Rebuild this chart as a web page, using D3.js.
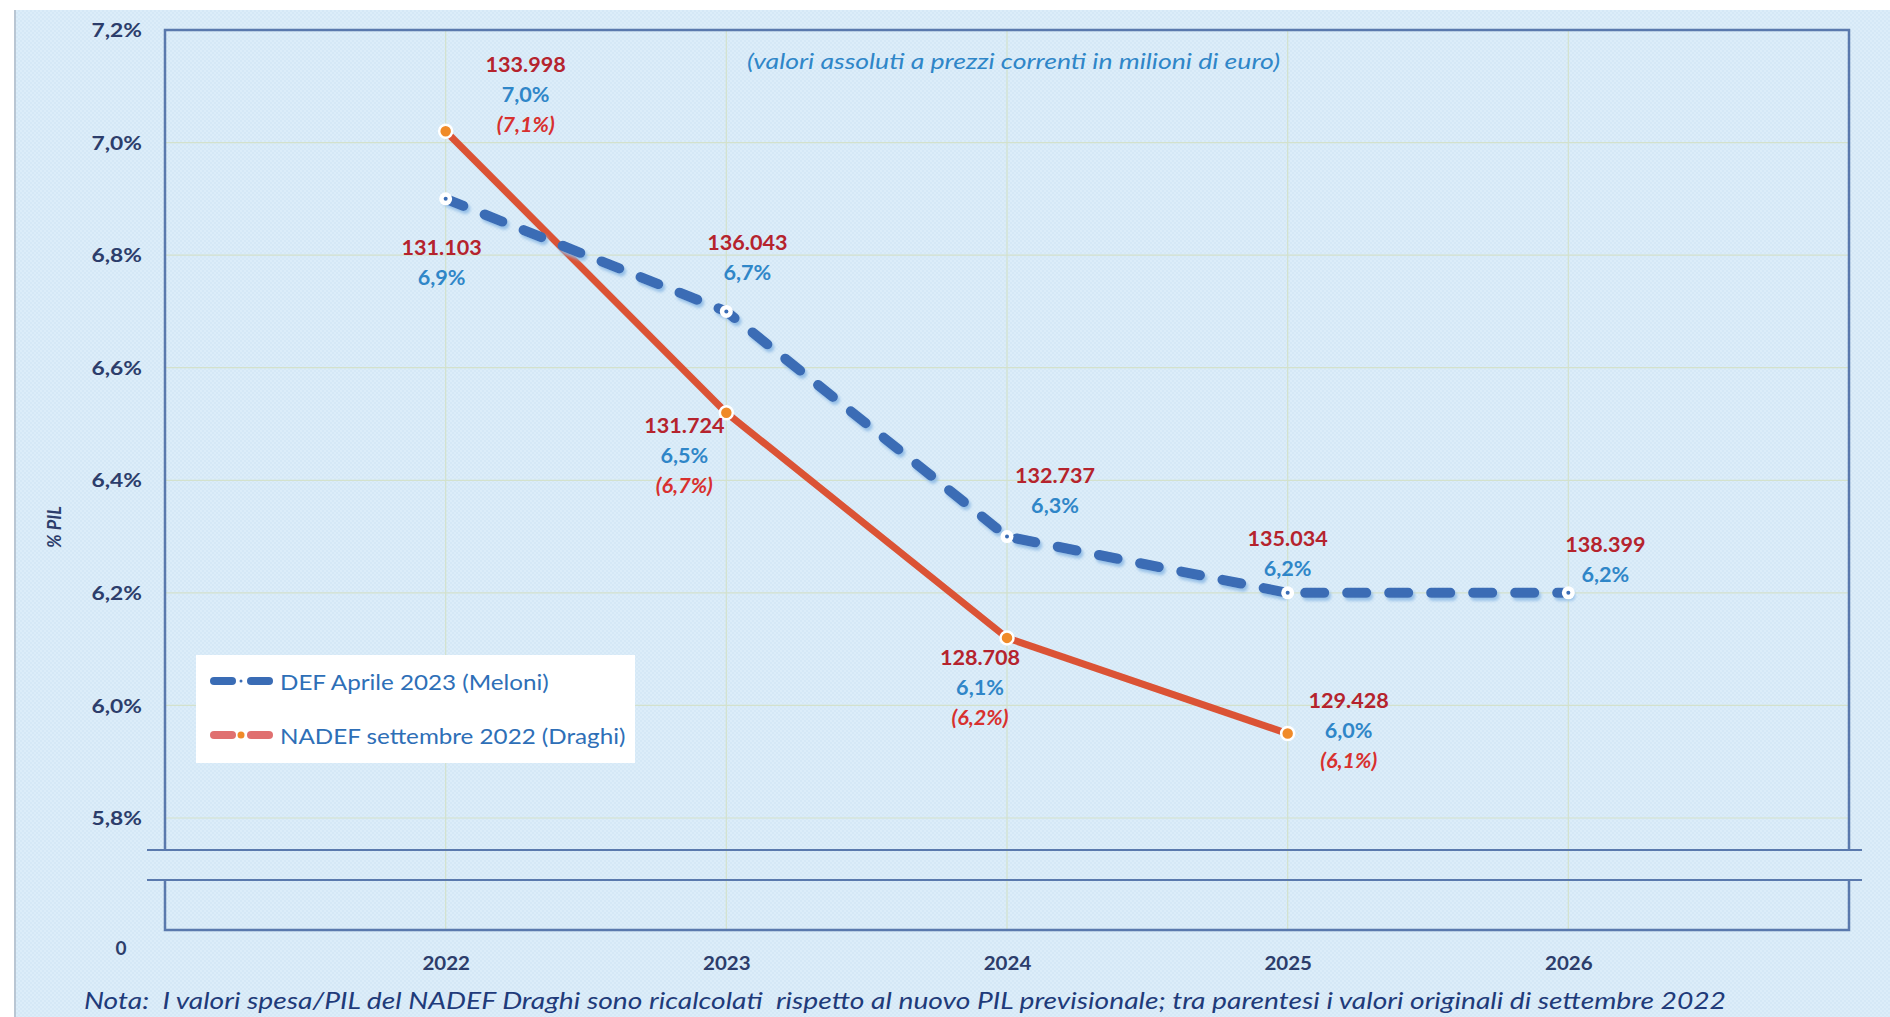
<!DOCTYPE html>
<html>
<head>
<meta charset="utf-8">
<script src="https://cdn.jsdelivr.net/npm/d3@7"></script>
<style>
  html, body { margin: 0; padding: 0; background: #ffffff; }
  svg { display: block; }
  text { font-family: Lato, "Open Sans", sans-serif; }
</style>
</head>
<body>
<svg id="chart" width="1890" height="1017"></svg>
<script>
// ---------------- DATA ----------------
const years = [2022, 2023, 2024, 2025, 2026];
const defPct = [6.9, 6.7, 6.3, 6.2, 6.2];
const defPctLabel = ["6,9%", "6,7%", "6,3%", "6,2%", "6,2%"];
const defAbs = ["131.103", "136.043", "132.737", "135.034", "138.399"];

const nadefYears = [2022, 2023, 2024, 2025];
const nadefPct = [7.02, 6.52, 6.12, 5.95];
const nadefPctLabel = ["7,0%", "6,5%", "6,1%", "6,0%"];
const nadefOrigLabel = ["(7,1%)", "(6,7%)", "(6,2%)", "(6,1%)"];
const nadefAbs = ["133.998", "131.724", "128.708", "129.428"];

const yTicks = [5.8, 6.0, 6.2, 6.4, 6.6, 6.8, 7.0, 7.2];
const yBaseTick = [0];
const seriesNames = ["DEF Aprile 2023 (Meloni)", "NADEF settembre 2022 (Draghi)"];
const yTitle = "% PIL";
const subtitle = "(valori assoluti a prezzi correnti in milioni di euro)";
const note = "Nota:  I valori spesa/PIL del NADEF Draghi sono ricalcolati  rispetto al nuovo PIL previsionale; tra parentesi i valori originali di settembre 2022";

// ---------------- LAYOUT ----------------
const defLabelOffset = [[-4, 48], [21, -70], [48, -62], [0, -55], [37, -49]];
const nadefLabelOffset = [[80, -67], [-42, 12], [-27, 19], [61, -34]];

const C = {
  bg: "#dcedf9",
  frame: "#5a79ad",
  grid: "#d3e1cc",
  blue: "#3a6cb5",
  red: "#db5335",
  orange: "#f08a28",
  redText: "#b5232d",
  blueText: "#2f86c8",
  redItalic: "#d8302e",
  navy: "#2c3d6b",
  legendText: "#2e6fb7",
  noteText: "#1f3b7a"
};

const svg = d3.select("#chart");
const W = 1890, H = 1017;
const plot = { left: 165, right: 1849, top: 30, bottom: 818 };
const breakTop = 850, breakBot = 880, axisBottom = 930;

// defs
const defs = svg.append("defs");
const pat = defs.append("pattern").attr("id", "tex").attr("width", 4).attr("height", 4)
  .attr("patternUnits", "userSpaceOnUse");
pat.append("rect").attr("width", 4).attr("height", 4).attr("fill", C.bg);
pat.append("rect").attr("width", 2).attr("height", 2).attr("fill", "#d5e8f6");
pat.append("rect").attr("x", 2).attr("y", 2).attr("width", 2).attr("height", 2).attr("fill", "#d5e8f6");

const shadow = defs.append("filter").attr("id", "blueShadow")
  .attr("x", "-5%").attr("y", "-20%").attr("width", "110%").attr("height", "140%");
shadow.append("feGaussianBlur").attr("in", "SourceGraphic").attr("stdDeviation", 0.6).attr("result", "soft");
shadow.append("feDropShadow").attr("in", "soft").attr("dx", 2).attr("dy", 3).attr("stdDeviation", 1.6)
  .attr("flood-color", "#8fbbe6").attr("flood-opacity", 0.9);

// background
svg.append("rect").attr("width", W).attr("height", H).attr("fill", "#ffffff");
svg.append("rect").attr("x", 15).attr("y", 10).attr("width", W - 15).attr("height", H - 10).attr("fill", "url(#tex)");
svg.append("line").attr("x1", 15).attr("x2", 15).attr("y1", 10).attr("y2", H)
  .attr("stroke", "#b9c6d3").attr("stroke-width", 2);

// scales
const x = d3.scaleLinear().domain([2021, 2027]).range([plot.left, plot.right]);
const y = d3.scaleLinear().domain([5.8, 7.2]).range([plot.bottom, plot.top]);
const yBase = d3.scaleLinear().domain([0, 1]).range([948, 900]);

// grid
const g = svg.append("g");
g.selectAll(".hgrid").data(yTicks.slice(0, -1)).join("line")
  .attr("x1", plot.left).attr("x2", plot.right)
  .attr("y1", d => y(d)).attr("y2", d => y(d))
  .attr("stroke", C.grid).attr("stroke-width", 1.2);
g.selectAll(".vgrid").data(years).join("line")
  .attr("x1", d => x(d)).attr("x2", d => x(d))
  .attr("y1", plot.top).attr("y2", axisBottom)
  .attr("stroke", C.grid).attr("stroke-width", 1.2);

// frame
const fr = svg.append("g").attr("stroke", C.frame).attr("fill", "none");
fr.append("path").attr("stroke-width", 2.5)
  .attr("d", `M${plot.left},${breakTop}V${plot.top}H${plot.right}V${breakTop}`);
fr.append("path").attr("stroke-width", 2.5)
  .attr("d", `M${plot.left},${breakBot}V${axisBottom}H${plot.right}V${breakBot}`);
fr.append("line").attr("x1", 147).attr("x2", 1862).attr("y1", breakTop).attr("y2", breakTop).attr("stroke-width", 2.2);
fr.append("line").attr("x1", 147).attr("x2", 1862).attr("y1", breakBot).attr("y2", breakBot).attr("stroke-width", 2.2);

// y axis
const yAxis = d3.axisLeft(y).tickValues(yTicks).tickSize(0).tickPadding(0)
  .tickFormat(d => d3.format(".1f")(d).replace(".", ",") + "%");
const ya = svg.append("g").attr("transform", `translate(142,0)`).call(yAxis);
ya.select(".domain").remove();
ya.selectAll("text").attr("font-size", 19).attr("font-weight", 700).attr("fill", C.navy)
  .attr("dy", "0.35em").attr("x", 0)
  .attr("transform", "scale(1.2,1)");
const yb = svg.append("g").attr("transform", `translate(121,0)`)
  .call(d3.axisLeft(yBase).tickValues(yBaseTick).tickSize(0).tickPadding(0).tickFormat(d => String(d)));
yb.select(".domain").remove();
yb.selectAll("text").attr("font-size", 19).attr("font-weight", 700).attr("fill", C.navy)
  .attr("text-anchor", "middle").attr("dy", "0.35em").attr("x", 0);

svg.append("text").attr("transform", "translate(54,527) rotate(-90)")
  .attr("text-anchor", "middle").attr("dominant-baseline", "central")
  .attr("font-size", 18).attr("font-weight", 700).attr("font-style", "italic")
  .attr("fill", C.navy).text(yTitle);

// x axis
const xAxis = d3.axisBottom(x).tickValues(years).tickSize(0).tickPadding(0).tickFormat(d3.format("d"));
const xa = svg.append("g").attr("transform", `translate(0,963)`).call(xAxis);
xa.select(".domain").remove();
xa.selectAll("text").attr("font-size", 19).attr("font-weight", 700).attr("fill", C.navy)
  .attr("dy", "0.35em").attr("y", 0).attr("transform", "scale(1.08,1)");

// subtitle
svg.append("text").attr("x", 747).attr("y", 60)
  .attr("dominant-baseline", "central").attr("font-size", 21).attr("font-style", "italic")
  .attr("textLength", 533).attr("lengthAdjust", "spacingAndGlyphs")
  .attr("fill", C.blueText).text(subtitle);

// lines
const defData = years.map((yr, i) => ({ yr, v: defPct[i], i }));
const nadefData = nadefYears.map((yr, i) => ({ yr, v: nadefPct[i], i }));
const line = d3.line().x(d => x(d.yr)).y(d => y(d.v));

svg.append("path").datum(nadefData).attr("d", line)
  .attr("fill", "none").attr("stroke", C.red).attr("stroke-width", 7)
  .attr("stroke-linejoin", "round");

svg.append("path").datum(defData).attr("d", line)
  .attr("fill", "none").attr("stroke", C.blue).attr("stroke-width", 10)
  .attr("stroke-linecap", "round").attr("stroke-dasharray", "19,23")
  .attr("stroke-linejoin", "round").attr("filter", "url(#blueShadow)");

// markers
svg.selectAll(".mDef").data(defData).join("g")
  .attr("transform", d => `translate(${x(d.yr)},${y(d.v)})`)
  .each(function () {
    const s = d3.select(this);
    s.append("circle").attr("r", 6.5).attr("fill", "#ffffff");
    s.append("circle").attr("r", 2).attr("fill", C.blue);
  });
svg.selectAll(".mNad").data(nadefData).join("circle")
  .attr("cx", d => x(d.yr)).attr("cy", d => y(d.v)).attr("r", 6.5)
  .attr("fill", C.orange).attr("stroke", "#ffffff").attr("stroke-width", 2.5);

// data labels
const lh = 30;
function labels(data, offsets, lines) {
  data.forEach((d, i) => {
    const cx = x(d.yr) + offsets[i][0];
    const cy = y(d.v) + offsets[i][1];
    lines.forEach((L, k) => {
      svg.append("text")
        .attr("transform", `translate(${cx},${cy + k * lh}) scale(1.08,1)`)
        .attr("text-anchor", "middle").attr("dominant-baseline", "central")
        .attr("font-size", 20).attr("font-weight", L.weight)
        .attr("font-style", L.italic ? "italic" : "normal")
        .attr("fill", L.color).text(L.arr[i]);
    });
  });
}
labels(defData, defLabelOffset, [
  { arr: defAbs, color: C.redText, weight: 700 },
  { arr: defPctLabel, color: C.blueText, weight: 700 }
]);
labels(nadefData, nadefLabelOffset, [
  { arr: nadefAbs, color: C.redText, weight: 700 },
  { arr: nadefPctLabel, color: C.blueText, weight: 700 },
  { arr: nadefOrigLabel, color: C.redItalic, weight: 700, italic: true }
]);

// legend
const lg = svg.append("g");
lg.append("rect").attr("x", 196).attr("y", 655).attr("width", 439).attr("height", 108)
  .attr("fill", "#ffffff");
const legendRows = [
  { name: seriesNames[0], y: 681, seg: C.blue, dot: "#ffffff", inner: C.blue },
  { name: seriesNames[1], y: 735, seg: "#e07070", dot: C.orange, inner: null }
];
legendRows.forEach(r => {
  lg.append("line").attr("x1", 214).attr("x2", 232).attr("y1", r.y).attr("y2", r.y)
    .attr("stroke", r.seg).attr("stroke-width", 8).attr("stroke-linecap", "round");
  lg.append("line").attr("x1", 251).attr("x2", 269).attr("y1", r.y).attr("y2", r.y)
    .attr("stroke", r.seg).attr("stroke-width", 8).attr("stroke-linecap", "round");
  lg.append("circle").attr("cx", 241).attr("cy", r.y).attr("r", 3.5).attr("fill", r.dot);
  if (r.inner) lg.append("circle").attr("cx", 241).attr("cy", r.y).attr("r", 1.5).attr("fill", r.inner);
  lg.append("text").attr("transform", `translate(280,${r.y}) scale(1.1,1)`)
    .attr("dominant-baseline", "central")
    .attr("font-size", 22).attr("fill", C.legendText).text(r.name);
});

// note
svg.append("text").attr("x", 84).attr("y", 1000).attr("dominant-baseline", "central")
  .attr("style", "white-space: pre")
  .attr("textLength", 1642).attr("lengthAdjust", "spacingAndGlyphs")
  .attr("font-size", 23).attr("font-style", "italic").attr("fill", C.noteText).text(note);
</script>
</body>
</html>
